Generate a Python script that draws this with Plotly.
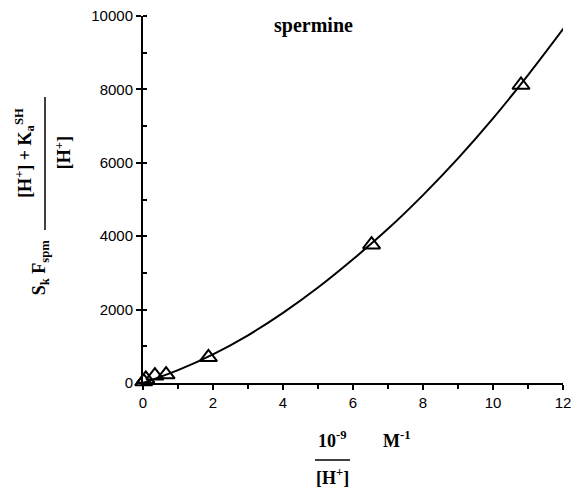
import plotly.graph_objects as go

# Data points (triangles)
pts_x = [0.02, 0.08, 0.34, 0.66, 1.87, 6.53, 10.8]
pts_y = [40, 110, 200, 230, 700, 3770, 8120]

# Fitted curve
curve_x = [0, 1, 2, 3, 4, 5, 6, 7, 8, 9, 10, 11, 12.07]
curve_y = [0, 350, 780, 1300, 1910, 2600, 3370, 4200, 5120, 6120, 7210, 8390, 9730]

x_ticks = [0, 2, 4, 6, 8, 10, 12]
y_ticks = [0, 2000, 4000, 6000, 8000, 10000]

fig = go.Figure()
fig.add_trace(go.Scatter(x=curve_x, y=curve_y, mode="lines",
                         line=dict(color="black", width=2, shape="spline"),
                         cliponaxis=False, showlegend=False))
fig.add_trace(go.Scatter(x=pts_x, y=pts_y, mode="markers",
                         marker=dict(symbol="triangle-up-open", size=15,
                                     color="black", line=dict(width=2, color="black")),
                         cliponaxis=False, showlegend=False))

W, H = 573, 492
L, R, T, B = 143, 10, 16, 109

fig.update_layout(
    width=W, height=H,
    margin=dict(l=L, r=R, t=T, b=B, pad=0),
    paper_bgcolor="white", plot_bgcolor="white",
    showlegend=False,
    font=dict(family="Liberation Sans, Arial", size=15, color="black"),
    xaxis=dict(range=[0, 12], tickvals=x_ticks, ticktext=[str(v) for v in x_ticks],
               showline=True, linecolor="black", linewidth=1.5, ticks="outside",
               ticklen=5, tickwidth=1.5, tickcolor="black", showgrid=False,
               zeroline=False, ticklabeloverflow="allow", automargin=False,
               minor=dict(ticks="outside", ticklen=4, dtick=1, tickcolor="black")),
    yaxis=dict(range=[0, 10000], tickvals=y_ticks, ticktext=[str(v) for v in y_ticks],
               showline=True, linecolor="black", linewidth=2, ticks="outside",
               ticklen=5, tickwidth=1.5, tickcolor="black", showgrid=False,
               zeroline=False, ticklabeloverflow="allow", automargin=False,
               minor=dict(ticks="inside", ticklen=4, dtick=1000, tickcolor="black")),
)

serif = dict(family="Liberation Serif, Times New Roman", size=18, color="black")

def ann(text, x, y, angle=0, size=18):
    f = dict(serif)
    f["size"] = size
    fig.add_annotation(text=text, x=x, y=y, xref="paper", yref="paper",
                       showarrow=False, textangle=angle, xanchor="center",
                       yanchor="middle", font=f)

ann("<b>spermine</b>", 0.405, 0.975, size=20)
ann("<b>S<sub>k</sub> F<sub>spm</sub></b>", -0.245, 0.313, angle=-90)
ann("<b>[H<sup>+</sup>] + K<sub>a</sub><sup>SH</sup></b>", -0.281, 0.627, angle=-90)
ann("<b>[H<sup>+</sup>]</b>", -0.1905, 0.629, angle=-90)
fig.add_shape(type="line", xref="paper", yref="paper", x0=-0.2333, x1=-0.2333,
              y0=0.417, y1=0.779, line=dict(color="black", width=1.5))

ann("<b>10<sup>-9</sup></b>", 0.452, -0.155)
ann("<b>[H<sup>+</sup>]</b>", 0.452, -0.256)
ann("<b>M<sup>-1</sup></b>", 0.605, -0.155)
fig.add_shape(type="line", xref="paper", yref="paper", x0=0.4095, x1=0.493,
              y0=-0.2098, y1=-0.2098, line=dict(color="black", width=1.5))

fig.write_html("out.html", config={"displayModeBar": False},
               post_script="document.body.style.margin='0';document.body.style.overflow='hidden';")
